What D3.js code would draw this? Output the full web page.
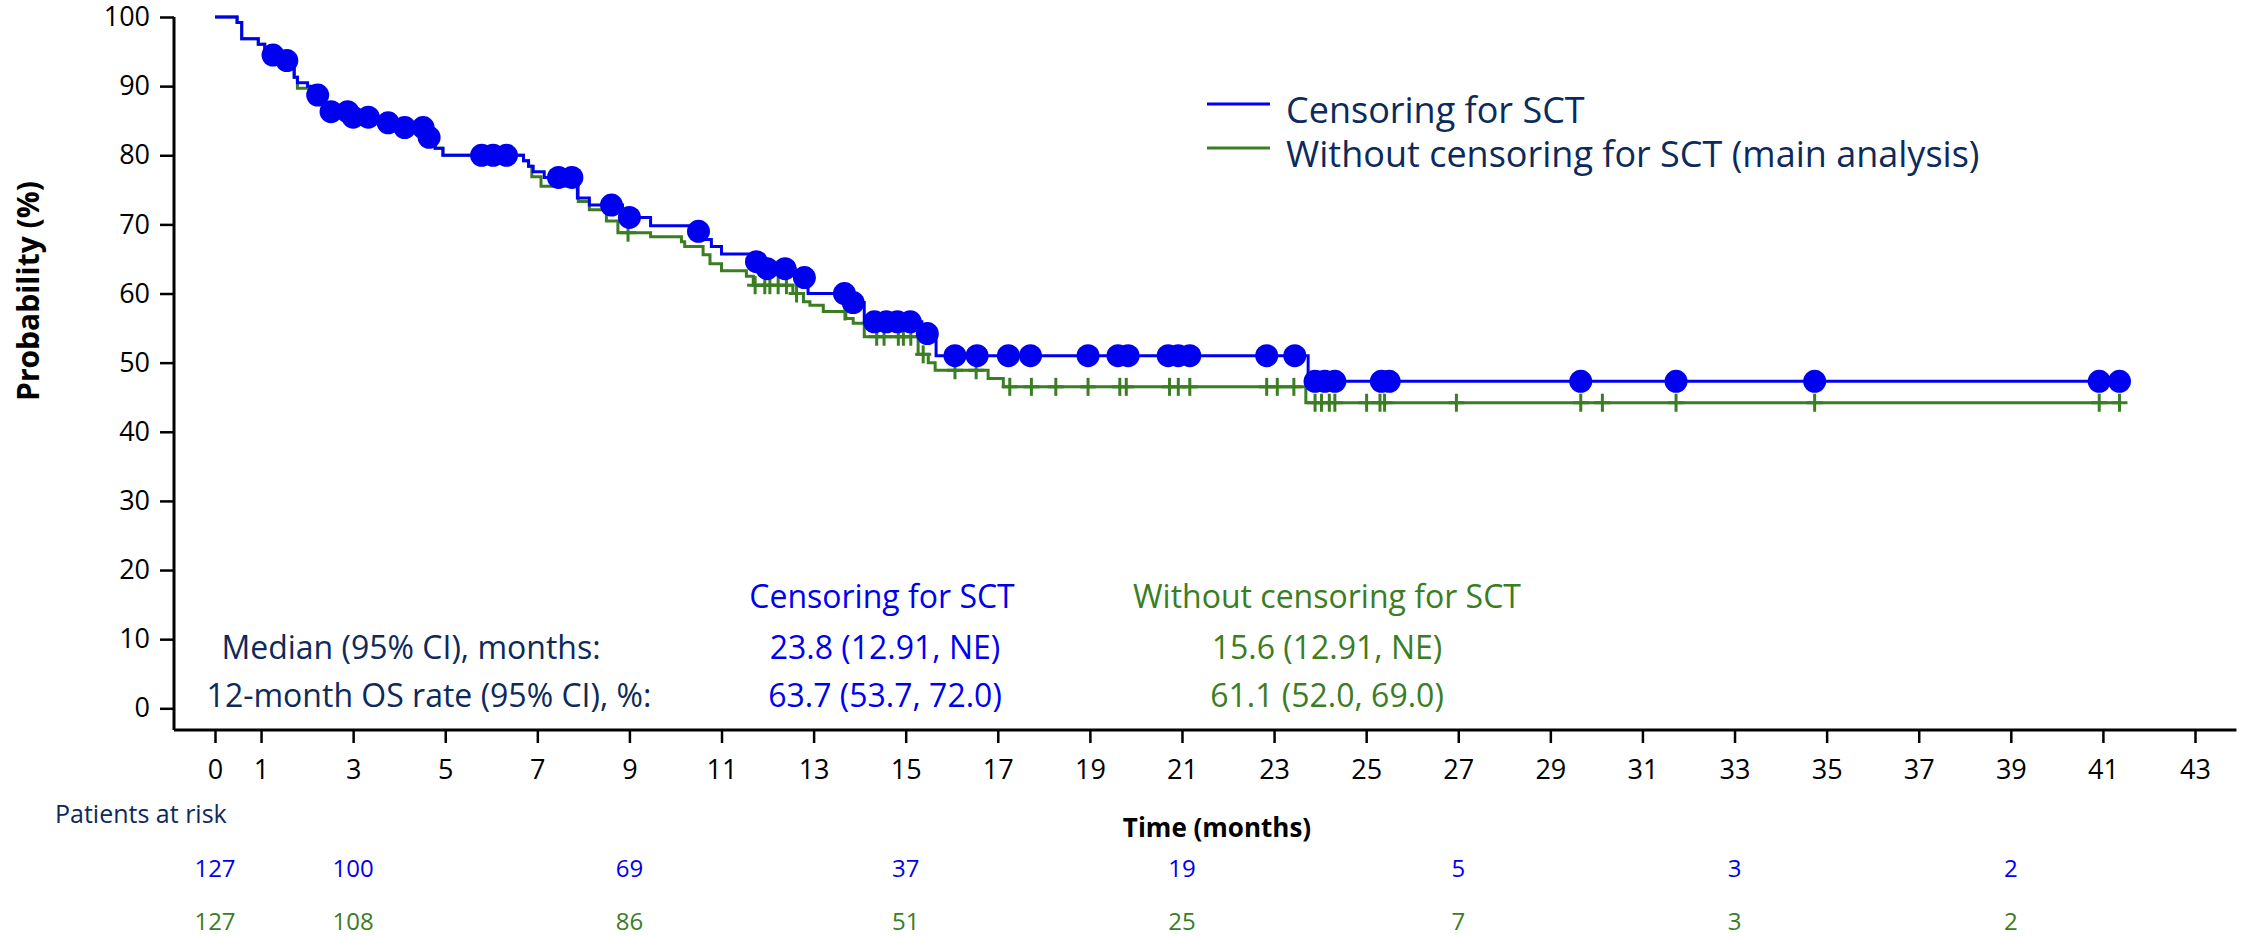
<!DOCTYPE html>
<html>
<head>
<meta charset="utf-8">
<script src="https://cdn.jsdelivr.net/npm/d3@7"></script>
<style>
  body { margin: 0; background: #fff; }
  svg { display: block; font-family: 'Open Sans', sans-serif; }
</style>
</head>
<body>
<script>
// Axis ticks
const xTicks = [0, 1, 3, 5, 7, 9, 11, 13, 15, 17, 19, 21, 23, 25, 27, 29, 31, 33, 35, 37, 39, 41, 43];
const yTicks = [0, 10, 20, 30, 40, 50, 60, 70, 80, 90, 100];

// Censoring for SCT (blue): event times (months) and survival (%) after each step
const blueTimes = [0, 0.48, 0.58, 0.94, 1.08, 1.17, 1.45, 1.72, 1.79, 2.01, 2.15, 2.38, 2.95, 3.55, 3.95, 4.58, 4.78, 4.95,
  6.70, 6.81, 6.91, 7.15, 7.80, 7.87, 8.13, 8.85, 9.46, 10.45, 10.60, 10.78, 11.00, 11.70, 11.90, 12.60, 12.88,
  13.80, 14.10, 15.35, 15.66, 23.74];
const blueSurv = [100, 99.2, 96.85, 96.06, 95.28, 94.49, 93.7, 91.3, 90.5, 90.0, 88.7, 86.3, 85.5, 84.7, 84.0, 82.6, 81.0, 80.0,
  79.2, 78.4, 77.6, 76.8, 75.7, 73.8, 72.8, 71.0, 69.8, 69.0, 67.8, 66.8, 65.7, 64.6, 63.6, 62.3, 60.0,
  58.7, 55.9, 54.2, 51.0, 47.3];
// censored at SCT (circles)
const blueCensor = [1.26, 1.56, 2.23, 2.52, 2.88, 3.0, 3.33, 3.76, 4.12, 4.52, 4.65, 5.79, 6.04, 6.33, 7.46, 7.75,
  8.61, 9.0, 10.5, 11.76, 11.99, 12.38, 12.8, 13.67, 13.86, 14.32, 14.58, 14.82, 15.1, 15.47, 16.07, 16.55,
  17.23, 17.71, 18.96, 19.61, 19.83, 20.7, 20.92, 21.17, 22.84, 23.45, 23.89, 24.1, 24.32, 25.33, 25.5,
  29.66, 31.73, 34.74, 40.92, 41.36];

// Without censoring for SCT (green)
const greenTimes = [0, 0.48, 0.58, 0.94, 1.08, 1.17, 1.45, 1.72, 1.79, 2.15, 2.38, 2.95, 3.55, 3.95, 4.58, 4.78, 4.95,
  6.70, 6.81, 6.88, 7.08, 7.89, 8.13, 8.50, 8.75, 9.46, 10.13, 10.20, 10.60, 10.75, 11.00, 11.54, 11.69, 12.55,
  12.78, 12.92, 13.21, 13.70, 13.86, 14.10, 15.27, 15.49, 15.64, 16.79, 17.12, 23.69];
const greenSurv = [100, 99.2, 96.85, 96.06, 95.28, 94.49, 93.7, 91.3, 89.7, 88.7, 86.3, 85.5, 84.7, 84.0, 82.6, 81.0, 80.0,
  79.2, 78.4, 76.9, 75.5, 73.3, 72.1, 70.5, 68.8, 68.2, 67.5, 66.8, 65.6, 64.3, 63.3, 62.5, 61.2, 60.0,
  58.8, 58.3, 57.4, 56.4, 55.7, 53.75, 51.2, 50.0, 48.9, 47.7, 46.5, 44.2];
const greenCensor = [8.97, 11.73, 11.94, 12.05, 12.23, 12.41, 12.63, 13.68, 14.37, 14.53, 14.84, 14.95, 15.11, 15.38,
  16.07, 16.53, 17.26, 17.73, 18.26, 18.96, 19.65, 19.79, 20.73, 20.92, 21.17, 22.84, 23.07, 23.43, 23.89, 24.03,
  24.2, 24.32, 25.01, 25.3, 25.4, 26.96, 29.66, 30.13, 31.73, 34.74, 40.92, 41.36];

// Patients at risk
const riskTimes = [0, 3, 9, 15, 21, 27, 33, 39];
const riskBlue = [127, 100, 69, 37, 19, 5, 3, 2];
const riskGreen = [127, 108, 86, 51, 25, 7, 3, 2];

// Legend and summary text
const seriesNames = ['Censoring for SCT', 'Without censoring for SCT (main analysis)'];
const summaryHeaders = ['Censoring for SCT', 'Without censoring for SCT'];
const summaryLabels = ['Median (95% CI), months:', '12-month OS rate (95% CI), %:'];
const summaryBlue = ['23.8 (12.91, NE)', '63.7 (53.7, 72.0)'];
const summaryGreen = ['15.6 (12.91, NE)', '61.1 (52.0, 69.0)'];

const BLUE = '#0000f0';
const GREEN = '#3a7d22';
const NAVY = '#0c2a5b';

const svg = d3.select('body').append('svg')
  .attr('width', 2241)
  .attr('height', 936);

// scales
const x = d3.scaleLinear().domain([0, 43]).range([215, 2195]);
const y = d3.scaleLinear().domain([0, 100]).range([708.3, 17]);
const xAxisSpan = [-0.89, 43.9];
const yAxisSpan = [-3.14, 100];

// axes
const xAxisG = svg.append('g')
  .attr('transform', 'translate(0,' + y(yAxisSpan[0]) + ')')
  .call(d3.axisBottom(x).tickValues(xTicks).tickSize(13).tickPadding(17).tickFormat(d3.format('d')));
xAxisG.select('.domain').remove();
xAxisG.append('line')
  .attr('x1', x(xAxisSpan[0])).attr('x2', x(xAxisSpan[1]))
  .attr('stroke', '#000').attr('stroke-width', 3);

const yAxisG = svg.append('g')
  .attr('transform', 'translate(' + x(xAxisSpan[0]) + ',0)')
  .call(d3.axisLeft(y).tickValues(yTicks).tickSize(14).tickPadding(10));
yAxisG.select('.domain').remove();
yAxisG.append('line')
  .attr('y1', y(yAxisSpan[0])).attr('y2', y(yAxisSpan[1]))
  .attr('stroke', '#000').attr('stroke-width', 3);

svg.selectAll('.tick line').attr('stroke', '#000').attr('stroke-width', 2.5);
svg.selectAll('.tick text')
  .attr('fill', '#000')
  .style('font-family', "'Open Sans', sans-serif")
  .style('font-size', '27px');

// axis titles
svg.append('text')
  .attr('transform', 'translate(39,291) rotate(-90)')
  .attr('text-anchor', 'middle')
  .style('font-size', '30px')
  .style('font-weight', 'bold')
  .text('Probability (%)');

svg.append('text')
  .attr('x', 1217).attr('y', 837)
  .attr('text-anchor', 'middle')
  .style('font-size', '26px')
  .style('font-weight', 'bold')
  .text('Time (months)');

// step helpers
function stepPoints(times, surv, end) {
  const pts = times.map((t, i) => [t, surv[i]]);
  pts.push([end, surv[surv.length - 1]]);
  return pts;
}
function survAt(times, surv, t) {
  let v = surv[0];
  for (let i = 0; i < times.length; i++) if (times[i] <= t) v = surv[i];
  return v;
}

const line = d3.line()
  .x(d => x(d[0]))
  .y(d => y(d[1]))
  .curve(d3.curveStepAfter);

// green curve
svg.append('path')
  .datum(stepPoints(greenTimes, greenSurv, d3.max(greenCensor)))
  .attr('d', line)
  .attr('fill', 'none')
  .attr('stroke', GREEN)
  .attr('stroke-width', 3);

const plus = svg.append('g').attr('stroke', GREEN).attr('stroke-width', 3);
greenCensor.forEach(function (t) {
  const cx = x(t), cy = y(survAt(greenTimes, greenSurv, t));
  plus.append('line').attr('x1', cx).attr('x2', cx).attr('y1', cy - 9).attr('y2', cy + 9);
  plus.append('line').attr('x1', cx - 8).attr('x2', cx + 8).attr('y1', cy).attr('y2', cy);
});

// blue curve
svg.append('path')
  .datum(stepPoints(blueTimes, blueSurv, d3.max(blueCensor)))
  .attr('d', line)
  .attr('fill', 'none')
  .attr('stroke', BLUE)
  .attr('stroke-width', 3);

svg.selectAll('.dot')
  .data(blueCensor)
  .enter().append('circle')
  .attr('class', 'dot')
  .attr('cx', d => x(d))
  .attr('cy', d => y(survAt(blueTimes, blueSurv, d)))
  .attr('r', 11.5)
  .attr('fill', BLUE);

// legend
const legend = svg.append('g');
[BLUE, GREEN].forEach(function (c, i) {
  legend.append('line')
    .attr('x1', 1207).attr('x2', 1270)
    .attr('y1', 104 + i * 44).attr('y2', 104 + i * 44)
    .attr('stroke', c).attr('stroke-width', 3);
  legend.append('text')
    .attr('x', 1286).attr('y', 123 + i * 44)
    .attr('fill', NAVY)
    .style('font-size', '36px')
    .text(seriesNames[i]);
});

// summary statistics block
svg.append('text').attr('x', 882).attr('y', 608).attr('text-anchor', 'middle')
  .attr('fill', BLUE).style('font-size', '32px').text(summaryHeaders[0]);
svg.append('text').attr('x', 1327).attr('y', 608).attr('text-anchor', 'middle')
  .attr('fill', GREEN).style('font-size', '32px').text(summaryHeaders[1]);

const labelX = [411, 429];
summaryLabels.forEach(function (lab, i) {
  const yy = 659 + i * 48;
  svg.append('text').attr('x', labelX[i]).attr('y', yy).attr('text-anchor', 'middle')
    .attr('fill', NAVY).style('font-size', '32px').text(lab);
  svg.append('text').attr('x', 885).attr('y', yy).attr('text-anchor', 'middle')
    .attr('fill', BLUE).style('font-size', '32px').text(summaryBlue[i]);
  svg.append('text').attr('x', 1327).attr('y', yy).attr('text-anchor', 'middle')
    .attr('fill', GREEN).style('font-size', '32px').text(summaryGreen[i]);
});

// patients at risk
svg.append('text')
  .attr('x', 55).attr('y', 823)
  .attr('fill', NAVY)
  .style('font-size', '25px')
  .text('Patients at risk');

svg.selectAll('.risk-blue')
  .data(riskTimes)
  .enter().append('text')
  .attr('class', 'risk-blue')
  .attr('x', d => x(d)).attr('y', 877)
  .attr('text-anchor', 'middle')
  .attr('fill', BLUE)
  .style('font-size', '24px')
  .text((d, i) => riskBlue[i]);

svg.selectAll('.risk-green')
  .data(riskTimes)
  .enter().append('text')
  .attr('class', 'risk-green')
  .attr('x', d => x(d)).attr('y', 930)
  .attr('text-anchor', 'middle')
  .attr('fill', GREEN)
  .style('font-size', '24px')
  .text((d, i) => riskGreen[i]);
</script>
</body>
</html>
